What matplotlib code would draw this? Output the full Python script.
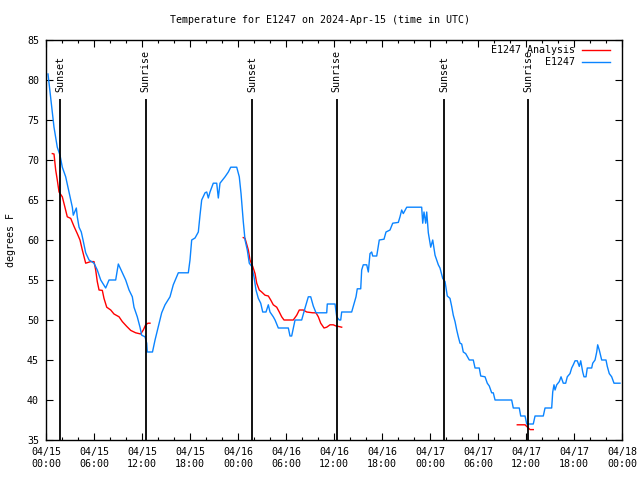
import numpy as np
import matplotlib
matplotlib.use("Agg")
import matplotlib.pyplot as plt

# ---- data (hours since 2024-04-15 00:00 UTC) ----
blue_h = [0.25, 0.66, 1.0, 1.41, 1.75, 2.04, 2.46, 2.88, 3.29, 3.41, 3.79, 3.91, 4.13, 4.41, 4.63, 4.96,
          5.38, 6.0, 6.41, 6.84, 7.46, 7.88, 8.71, 9.04, 9.54, 9.96, 10.38, 10.79, 11.0, 11.41, 11.75,
          11.96, 12.38, 12.59, 12.66, 13.31, 13.63, 14.04, 14.46, 14.88, 15.5, 15.91, 16.34, 16.54,
          17.79, 18.0, 18.21, 18.63, 19.04, 19.25, 19.46, 19.88, 20.09, 20.29, 20.5, 20.91, 21.34,
          21.54, 21.75, 22.38, 22.79, 23.09, 23.84, 24.16, 24.38, 24.66, 24.88, 25.16, 25.41, 25.71,
          26.0, 26.25, 26.54, 26.84, 27.09, 27.5, 27.79, 28.0, 28.41, 28.63, 29.04, 30.29, 30.5,
          30.71, 31.13, 31.96, 32.38, 32.79, 33.09, 33.41, 33.75, 35.09, 35.16, 36.13, 36.34, 36.66,
          36.84, 36.96, 38.21, 38.41, 38.75, 38.91, 39.34, 39.46, 39.66, 40.09, 40.29, 40.5, 40.71,
          40.84, 41.34, 41.66, 42.25, 42.5, 43.0, 43.34, 44.04, 44.25, 44.46, 44.66, 45.09, 46.96,
          47.09, 47.25, 47.46, 47.59, 47.79, 48.09, 48.34, 48.63, 49.04, 49.25, 49.59, 49.88, 50.16,
          50.5, 50.71, 50.91, 51.13, 51.34, 51.54, 51.75, 51.96, 52.16, 52.46, 52.91, 53.41, 53.63,
          54.16, 54.34, 54.88, 55.16, 55.41, 55.71, 55.91, 56.13, 58.21, 58.41, 59.16, 59.34, 59.88,
          60.09, 60.91, 61.13, 62.16, 62.38, 63.21, 63.34, 63.5, 63.63, 63.84, 64.16, 64.38, 64.66,
          64.96, 65.16, 65.5, 65.71, 65.91, 66.13, 66.41, 66.66, 66.84, 67.09, 67.25, 67.5, 67.66,
          68.21, 68.34, 68.63, 68.84, 68.96, 69.16, 69.46, 70.0, 70.16, 70.41, 70.71, 71.0, 71.75]
blue_t = [80.75, 77.1, 74.1, 71.6, 70.6, 69.1, 67.9, 66.0, 64.1, 63.1, 64.0, 62.9, 61.6, 61.0, 60.0, 58.4,
          57.5, 57.1, 56.25, 55.0, 54.0, 55.0, 55.0, 57.0, 55.9, 55.0, 53.75, 52.9, 51.6, 50.4, 49.1,
          48.1, 47.9, 47.1, 46.0, 46.0, 47.5, 49.2, 50.9, 51.9, 52.9, 54.4, 55.4, 55.9,
          55.9, 57.5, 60.0, 60.25, 61.0, 63.1, 65.0, 65.9, 66.0, 65.25, 66.0, 67.1, 67.1,
          65.25, 67.1, 67.9, 68.5, 69.1, 69.1, 67.9, 65.8, 62.3, 60.0, 58.75, 57.1, 56.7,
          55.4, 53.75, 52.7, 52.1, 51.0, 51.0, 51.9, 51.0, 50.4, 50.0, 49.0, 49.0, 48.0,
          48.0, 50.0, 50.0, 51.5, 52.9, 52.9, 51.75, 50.9, 50.9, 52.0, 52.0, 50.4, 50.0,
          50.0, 51.0, 51.0, 51.7, 52.9, 53.9, 53.9, 56.25, 56.9, 56.9, 56.0, 58.3, 58.5,
          58.0, 58.0, 60.0, 60.1, 61.0, 61.25, 62.1, 62.2, 62.9, 63.75, 63.3, 64.1, 64.1,
          62.1, 63.5, 62.1, 63.5, 60.9, 59.1, 60.0, 58.1, 56.9, 56.5, 55.2, 54.8, 53.0,
          52.7, 51.7, 50.6, 49.8, 48.75, 47.9, 47.1, 47.0, 46.0, 45.8, 45.0, 45.0, 44.0,
          44.0, 43.0, 42.9, 42.1, 41.75, 40.9, 40.9, 40.0, 40.0, 39.0, 39.0, 38.0, 38.0,
          37.0, 37.0, 38.0, 38.0, 39.0, 39.0, 41.0, 41.9, 41.25, 41.9, 42.3, 42.9, 42.1,
          42.1, 42.9, 43.3, 44.0, 44.4, 44.9, 44.9, 44.2, 44.9, 43.5, 42.9, 42.9, 44.0,
          44.0, 44.6, 45.0, 46.0, 46.9, 46.25, 45.0, 45.0, 44.2, 43.3, 42.9, 42.1, 42.1]

red_h = [0.79, 1.0, 1.21, 1.41, 1.63, 2.04, 2.34, 2.66, 3.09, 3.5, 3.91, 4.25, 4.54, 4.96, 5.59, 6.0,
         6.21, 6.41, 6.63, 7.04, 7.25, 7.59, 8.09, 8.5, 9.13, 9.54, 10.09, 10.59, 11.21, 11.84, 12.16,
         12.46, 12.75, 13.0, np.nan,
         24.66, 24.88, 25.29, 25.5, 25.84, 26.13, 26.34, 26.66, 26.96, 27.38, 27.79, 28.09, 28.41,
         28.84, 29.16, 29.46, 29.75, 30.91, 31.34, 31.66, 32.16, 32.59, 33.34, 33.75, 34.04, 34.34,
         34.75, 35.09, 35.5, 35.91, 36.25, 36.54, 36.96, np.nan,
         58.91, 59.88, 60.09, 60.29, 60.5, 60.91]
red_t = [70.8, 70.75, 68.75, 67.5, 66.0, 65.4, 64.2, 62.9, 62.7, 61.7, 60.8, 60.0, 58.75, 57.1, 57.3, 57.3,
         56.25, 54.8, 53.75, 53.7, 52.7, 51.6, 51.25, 50.75, 50.4, 49.8, 49.2, 48.7, 48.4, 48.25, 48.75,
         49.4, 49.6, 49.6, np.nan,
         60.3, 60.2, 58.75, 57.5, 56.7, 55.8, 54.6, 53.75, 53.5, 53.1, 53.0, 52.5, 51.9,
         51.6, 51.0, 50.4, 50.0, 50.0, 50.6, 51.25, 51.25, 51.0, 50.9, 50.9, 50.4, 49.6,
         49.0, 49.1, 49.4, 49.4, 49.25, 49.2, 49.1, np.nan,
         36.9, 36.9, 36.7, 36.5, 36.3, 36.3]

sun_h = [1.8, 12.45, 25.8, 36.35, 49.8, 60.3]
sun_lbl = ["Sunset", "Sunrise", "Sunset", "Sunrise", "Sunset", "Sunrise"]

xtick_h = [0, 6, 12, 18, 24, 30, 36, 42, 48, 54, 60, 66, 72]
xtick_lbl = ["04/15\n00:00", "04/15\n06:00", "04/15\n12:00", "04/15\n18:00",
             "04/16\n00:00", "04/16\n06:00", "04/16\n12:00", "04/16\n18:00",
             "04/17\n00:00", "04/17\n06:00", "04/17\n12:00", "04/17\n18:00",
             "04/18\n00:00"]
ytick_v = [35, 40, 45, 50, 55, 60, 65, 70, 75, 80, 85]

FONT = "DejaVu Sans Mono"
FS = 7.2
plt.rcParams['font.family'] = FONT

fig = plt.figure(figsize=(6.4, 4.8), dpi=100)
ax = fig.add_axes([46/640, 40/480, 576/640, 400/480])

ax.plot(red_h, red_t, color="#ff0000", lw=1.0)
ax.plot(blue_h, blue_t, color="#0a84ff", lw=1.0)

for h, lab in zip(sun_h, sun_lbl):
    ax.vlines(h, 35, 77.6, color="black", lw=1.3)
    ax.text(h, 78.45, lab, rotation=90, ha="center", va="bottom", fontsize=FS, family=FONT)

ax.set_xlim(0, 72)
ax.set_ylim(35, 85)
ax.set_xticks(xtick_h)
ax.set_xticklabels(xtick_lbl, fontsize=FS, linespacing=1.25)
ax.set_xticks(np.arange(0, 73, 2), minor=True)
ax.set_yticks(ytick_v)
ax.set_yticklabels([str(v) for v in ytick_v], fontsize=FS)
ax.tick_params(axis="both", which="major", direction="in", length=5, width=0.8,
               top=True, right=True, pad=5)
ax.tick_params(axis="x", which="minor", direction="in", length=2.5, width=0.8, top=True)
ax.tick_params(axis="x", which="major", pad=5)
for s in ax.spines.values():
    s.set_linewidth(1.0)

ax.set_ylabel("degrees F", fontsize=FS)
ax.yaxis.set_label_coords(-0.052, 0.5)
fig.text(0.5, 1 - 20/480, "Temperature for E1247 on 2024-Apr-15 (time in UTC)",
         ha="center", va="center", fontsize=FS)

# legend (drawn manually to right-align texts)
for yfrac, lab, col in [(0.975, "E1247 Analysis", "#ff0000"), (0.945, "E1247", "#0a84ff")]:
    ax.text(0.918, yfrac, lab, transform=ax.transAxes, ha="right", va="center", fontsize=FS)
    ax.plot([0.931, 0.979], [yfrac, yfrac], transform=ax.transAxes, color=col, lw=1.0)

fig.savefig("out.png", dpi=100)
